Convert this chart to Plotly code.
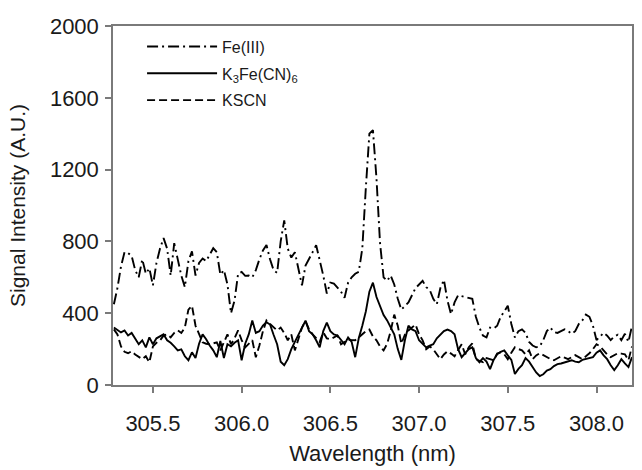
import numpy as np
import plotly.graph_objects as go

# Wavelength grid (nm), 0.02 nm steps
wavelength = np.round(305.28 + 0.02 * np.arange(147), 2)

fe3 = [
    450, 540, 660, 740, 735, 720, 640, 600, 700, 620,
    650, 555, 680, 760, 818, 760, 610, 790, 700, 610,
    545, 690, 745, 610, 680, 705, 690, 725, 762, 740,
    615, 640, 560, 400, 470, 620, 630, 608, 610, 600,
    640, 700, 750, 780, 700, 640, 625, 800, 917, 760,
    710, 740, 650, 555, 665, 700, 740, 779, 700, 610,
    510, 570, 565, 545, 520, 486, 570, 600, 620, 630,
    760, 1100, 1400, 1420, 1150, 790, 600, 580, 610, 560,
    480, 420, 440, 460, 500, 540, 560, 580, 545, 530,
    480, 450, 540, 586, 470, 395, 460, 500, 495, 490,
    486, 480, 380, 320, 275, 265, 320, 315, 330, 380,
    410, 442, 340, 265, 300, 310, 290, 240, 220, 210,
    215, 250, 300, 320, 295, 290, 300, 310, 300, 285,
    300, 340, 360, 392, 380, 330, 250, 270, 290, 275,
    250, 270, 280, 250, 285, 240, 330,
]

k3fecn6 = [
    320, 305, 293, 304, 276, 290, 260, 227, 249, 210,
    265, 227, 260, 270, 282, 249, 235, 215, 193, 199,
    160, 138, 182, 150, 230, 282, 255, 220, 193, 155,
    245, 150, 227, 215, 235, 249, 138, 230, 282, 359,
    290, 300, 331, 350, 337, 280, 227, 130, 110, 144,
    200, 240, 282, 320, 359, 300, 282, 249, 210, 300,
    348, 300, 282, 276, 250, 227, 265, 240, 155, 260,
    330, 410, 520, 570, 490, 440, 390, 360, 320, 282,
    200, 140, 249, 330, 310, 300, 249, 230, 210, 220,
    227, 260, 282, 300, 309, 300, 282, 200, 155, 180,
    200, 210, 150, 127, 150, 130, 88, 140, 171, 185,
    193, 165, 140, 61, 90, 110, 150, 130, 100, 70,
    50, 60, 80, 88, 105, 116, 120, 127, 135, 138,
    130, 127, 140, 144, 150, 155, 180, 193, 165, 144,
    110, 83, 110, 144, 120, 100, 155,
]

kscn = [
    310, 282, 215, 185, 177, 188, 170, 155, 144, 160,
    127, 215, 235, 249, 275, 282, 265, 290, 304, 290,
    320, 420, 442, 330, 285, 238, 230, 227, 232, 238,
    193, 240, 282, 227, 260, 304, 250, 210, 230, 249,
    155, 220, 300, 359, 340, 320, 304, 320, 290, 249,
    282, 193, 260, 320, 355, 310, 282, 260, 240, 293,
    260, 255, 265, 276, 227, 240, 254, 250, 249, 265,
    285, 300, 309, 270, 249, 215, 193, 230, 300, 392,
    330, 230, 280, 304, 320, 337, 282, 249, 199, 215,
    199, 170, 144, 170, 188, 175, 160, 195, 227, 171,
    210, 232, 144, 135, 127, 150, 145, 138, 175, 182,
    171, 144, 180, 210, 200, 193, 170, 193, 144, 165,
    177, 165, 155, 145, 138, 150, 160, 152, 144, 155,
    166, 155, 144, 160, 177, 200, 227, 215, 193, 170,
    155, 165, 177, 175, 171, 138, 215,
]

x_ticks = [305.5, 306.0, 306.5, 307.0, 307.5, 308.0]
x_tick_text = ["305.5", "306.0", "306.5", "307.0", "307.5", "308.0"]
y_ticks = [0, 400, 800, 1200, 1600, 2000]

FONT = "Liberation Sans, Arial, sans-serif"
AXIS_GREY = "#7a7a7a"
LINE_W = 1.9

fig = go.Figure()
fig.add_trace(go.Scatter(
    x=wavelength, y=fe3, mode="lines", name="Fe(III)", legendgroup="a",
    line=dict(color="black", width=LINE_W, dash="11px,4px,2px,4px"),
))
fig.add_trace(go.Scatter(
    x=wavelength, y=k3fecn6, mode="lines", name="K<sub>3</sub>Fe(CN)<sub>6</sub>",
    legendgroup="b",
    line=dict(color="black", width=LINE_W),
))
fig.add_trace(go.Scatter(
    x=wavelength, y=kscn, mode="lines", name="KSCN", legendgroup="c",
    line=dict(color="black", width=LINE_W, dash="8px,4px"),
))

fig.update_layout(
    width=642, height=470,
    margin=dict(l=113, r=8, t=26, b=82),
    paper_bgcolor="white", plot_bgcolor="white",
    font=dict(family=FONT, color="#1a1a1a", size=22),
    showlegend=True,
    legend=dict(
        x=0.056, y=0.99, xanchor="left", yanchor="top",
        font=dict(family=FONT, size=16, color="#1a1a1a"),
        itemwidth=70, bgcolor="rgba(0,0,0,0)", tracegroupgap=3,
    ),
    xaxis=dict(
        range=[305.275, 308.2], tickvals=x_ticks, ticktext=x_tick_text,
        showline=True, linecolor=AXIS_GREY, linewidth=1.5, mirror=True,
        ticks="outside", ticklen=6, tickcolor=AXIS_GREY, tickwidth=1.5,
        showgrid=False, zeroline=False,
        tickfont=dict(size=22), ticklabelstandoff=12,
        title=dict(text="Wavelength (nm)", font=dict(size=22), standoff=10),
    ),
    yaxis=dict(
        range=[0, 2000], tickvals=y_ticks,
        showline=True, linecolor=AXIS_GREY, linewidth=1.5, mirror=True,
        ticks="outside", ticklen=6, tickcolor=AXIS_GREY, tickwidth=1.5,
        showgrid=False, zeroline=False,
        tickfont=dict(size=22), ticklabelstandoff=2,
        title=dict(text="Signal Intensity (A.U.)", font=dict(size=21), standoff=19),
    ),
)

fig.write_html("out.html")
